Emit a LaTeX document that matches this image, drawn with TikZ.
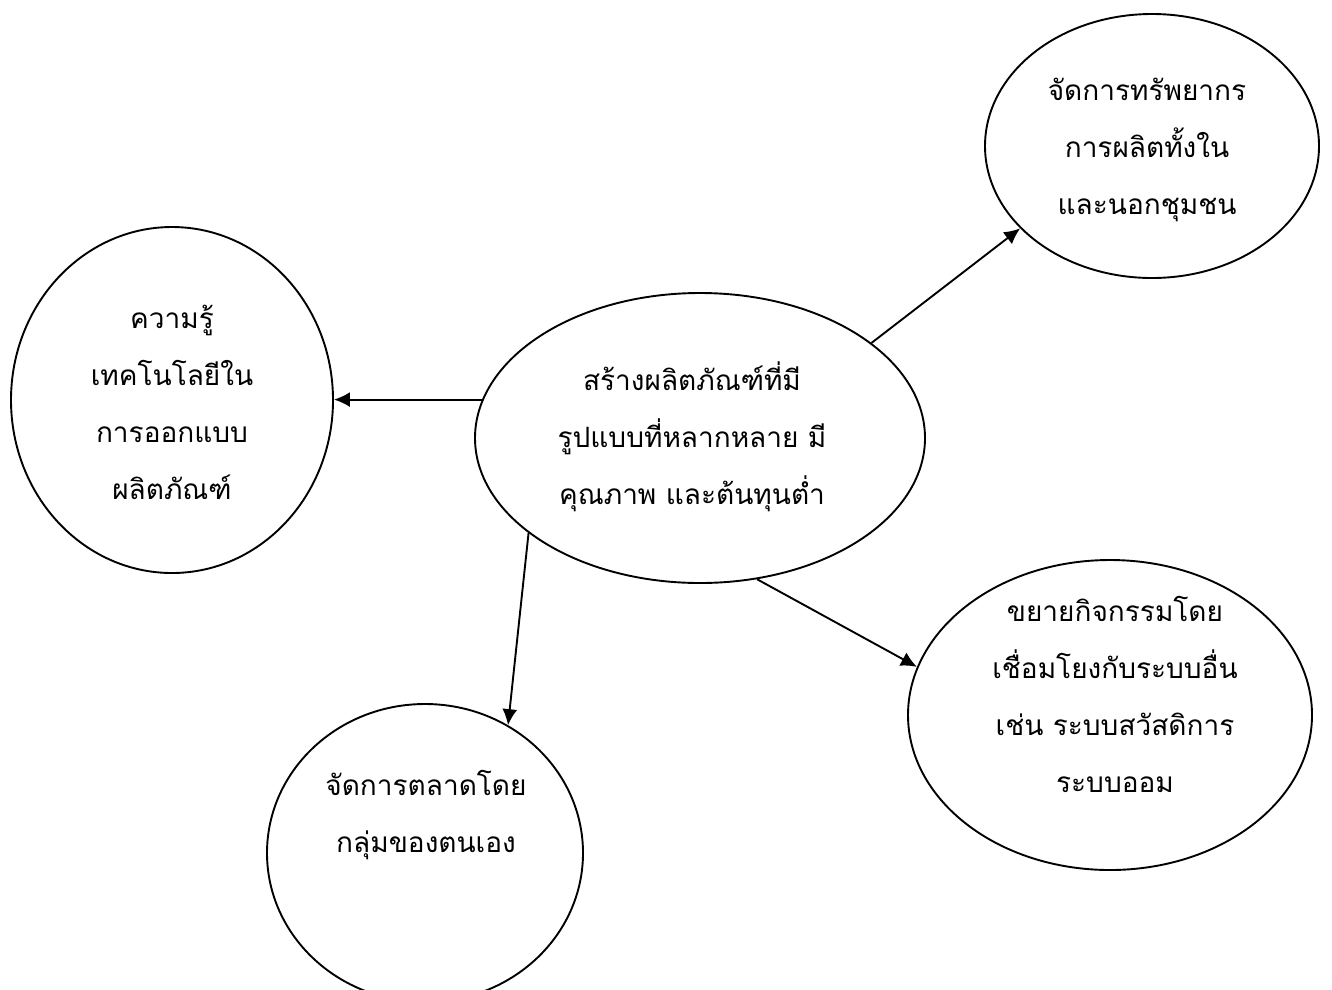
\documentclass[tikz,border=0pt]{standalone}
\usepackage{fontspec}
\newfontfamily\thaifont[Script=Thai]{Loma}
\usetikzlibrary{shapes.geometric,arrows.meta}
\tikzset{>={Latex[width=15pt,length=16pt]}}
\tikzset{bubble/.style={shape=ellipse,draw,line width=1.9pt,inner sep=0pt},
  thaitext/.style={align=center,font=\thaifont\fontsize{28pt}{57pt}\selectfont},
  link/.style={->,line width=1.9pt}}

\begin{document}
\begin{tikzpicture}[x=1pt,y=1pt]
\useasboundingbox (0,0) rectangle (1332,-989);

\path (700,-438) node [bubble,minimum width=450pt,minimum height=290pt] (prod) {};
\path (692,-437) node [thaitext] (prodtext) {สร้างผลิตภัณฑ์ที่มี\\รูปแบบที่หลากหลาย มี\\คุณภาพ และต้นทุนต่ำ};

\path (172,-400) node [bubble,minimum width=322pt,minimum height=346pt] (know) {};
\path (172,-402) node [thaitext] (knowtext) {ความรู้\\เทคโนโลยีใน\\การออกแบบ\\ผลิตภัณฑ์};

\path (1152,-146) node [bubble,minimum width=334pt,minimum height=264pt] (res) {};
\path (1147,-150) node [thaitext] (restext) {จัดการทรัพยากร\\การผลิตทั้งใน\\และนอกชุมชน};

\path (1110,-715) node [bubble,minimum width=404pt,minimum height=310pt] (ext) {};
\path (1115,-694) node [thaitext] (exttext) {ขยายกิจกรรมโดย\\เชื่อมโยงกับระบบอื่น\\เช่น ระบบสวัสดิการ\\ระบบออม};

\path (425,-853) node [bubble,minimum width=316pt,minimum height=298pt] (mkt) {};
\path (426,-815) node [thaitext] (mkttext) {จัดการตลาดโดย\\กลุ่มของตนเอง};

\draw [link] (prod.170) -- (prod.170 -| know.east);
\draw [link] (prod.29) -- (res.212);
\draw [link] (prod.209) -- (mkt.57);
\draw [link] (prod.292) -- (ext.166);

\end{tikzpicture}
\end{document}
